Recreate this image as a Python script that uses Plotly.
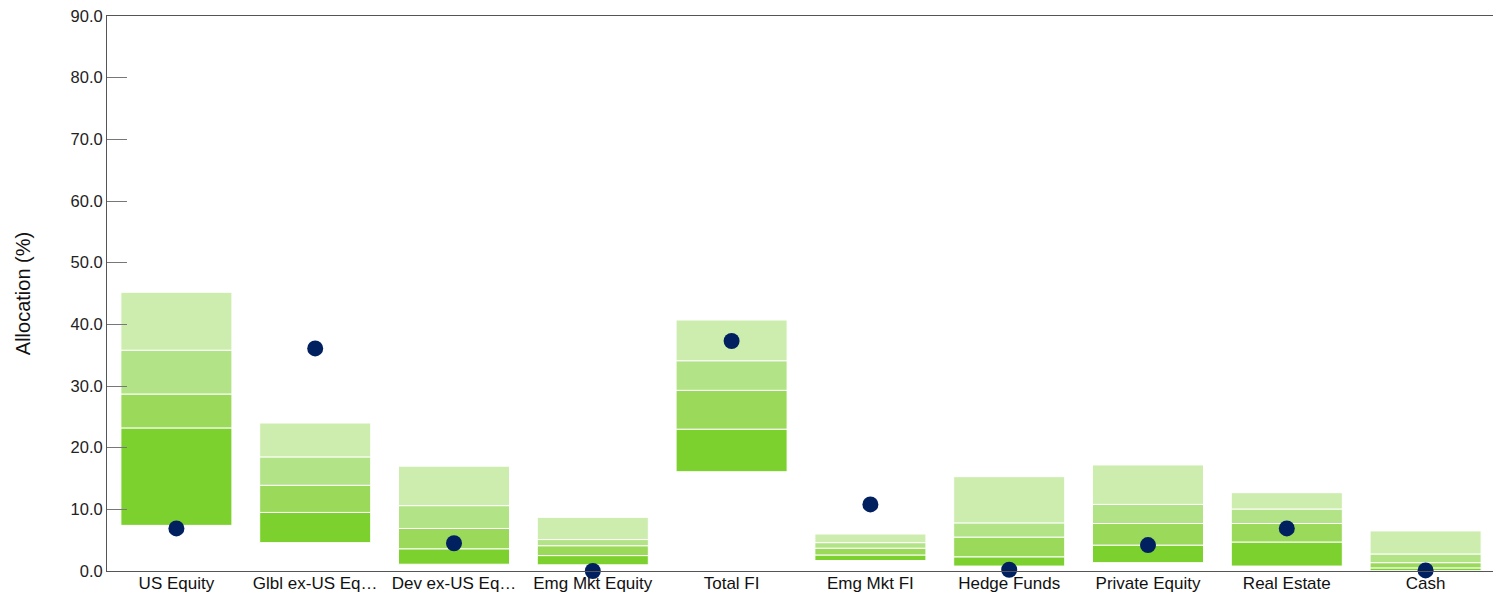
import plotly.graph_objects as go

categories = ["US Equity", "Glbl ex-US Eq…", "Dev ex-US Eq…", "Emg Mkt Equity", "Total FI",
              "Emg Mkt FI", "Hedge Funds", "Private Equity", "Real Estate", "Cash"]

p5 = [7.4, 4.6, 1.1, 1.0, 16.1, 1.7, 0.8, 1.35, 0.8, 0.05]
p25 = [23.2, 9.5, 3.6, 2.5, 23.0, 2.6, 2.3, 4.2, 4.7, 0.5]
p50 = [28.7, 13.9, 6.9, 4.1, 29.3, 3.7, 5.5, 7.7, 7.7, 1.35]
p75 = [35.8, 18.5, 10.6, 5.1, 34.1, 4.6, 7.8, 10.8, 10.05, 2.76]
p95 = [45.2, 24.0, 17.0, 8.7, 40.7, 6.0, 15.3, 17.2, 12.7, 6.5]
portfolio = [6.9, 36.1, 4.5, 0.0, 37.3, 10.8, 0.2, 4.2, 6.9, 0.1]

seg_colors = ["#7DD12F", "#9BD95B", "#B2E386", "#CDEDAE"]
bounds = [p5, p25, p50, p75, p95]

fig = go.Figure()
for i in range(4):
    lo = bounds[i]
    hi = bounds[i + 1]
    fig.add_trace(go.Bar(
        x=categories,
        y=[h - l for h, l in zip(hi, lo)],
        base=lo,
        marker=dict(color=seg_colors[i], line=dict(color="white", width=1)),
        width=0.8,
        showlegend=False,
        hoverinfo="skip",
    ))

fig.add_trace(go.Scatter(
    x=categories, y=portfolio, mode="markers",
    marker=dict(color="#002060", size=16),
    cliponaxis=False, showlegend=False,
))

fig.update_layout(
    barmode="overlay",
    width=1493, height=591,
    margin=dict(l=99, r=6, t=8, b=28),
    paper_bgcolor="white", plot_bgcolor="white",
    font=dict(family="Liberation Sans, Arial, sans-serif", size=17, color="#111"),
    xaxis=dict(
        range=[-0.5, 9.5], autorange=False, automargin=False,
        showline=True, linecolor="#555", linewidth=1, mirror=True,
        ticks="", showgrid=False, tickfont=dict(size=17, color="#111"),
        ticklabelstandoff=-3,
    ),
    yaxis=dict(
        range=[0, 90], autorange=False, automargin=False, dtick=10, tickformat=".1f",
        showline=True, linecolor="#555", linewidth=1, mirror=True,
        ticks="inside", ticklen=20, tickcolor="#777", showgrid=False, zeroline=False,
        ticklabeloverflow="allow",
        tickfont=dict(size=16.5, color="#222"),
        title=dict(text="Allocation (%)", font=dict(size=20, color="#111"), standoff=34),
    ),
)

fig.write_html("out.html")
